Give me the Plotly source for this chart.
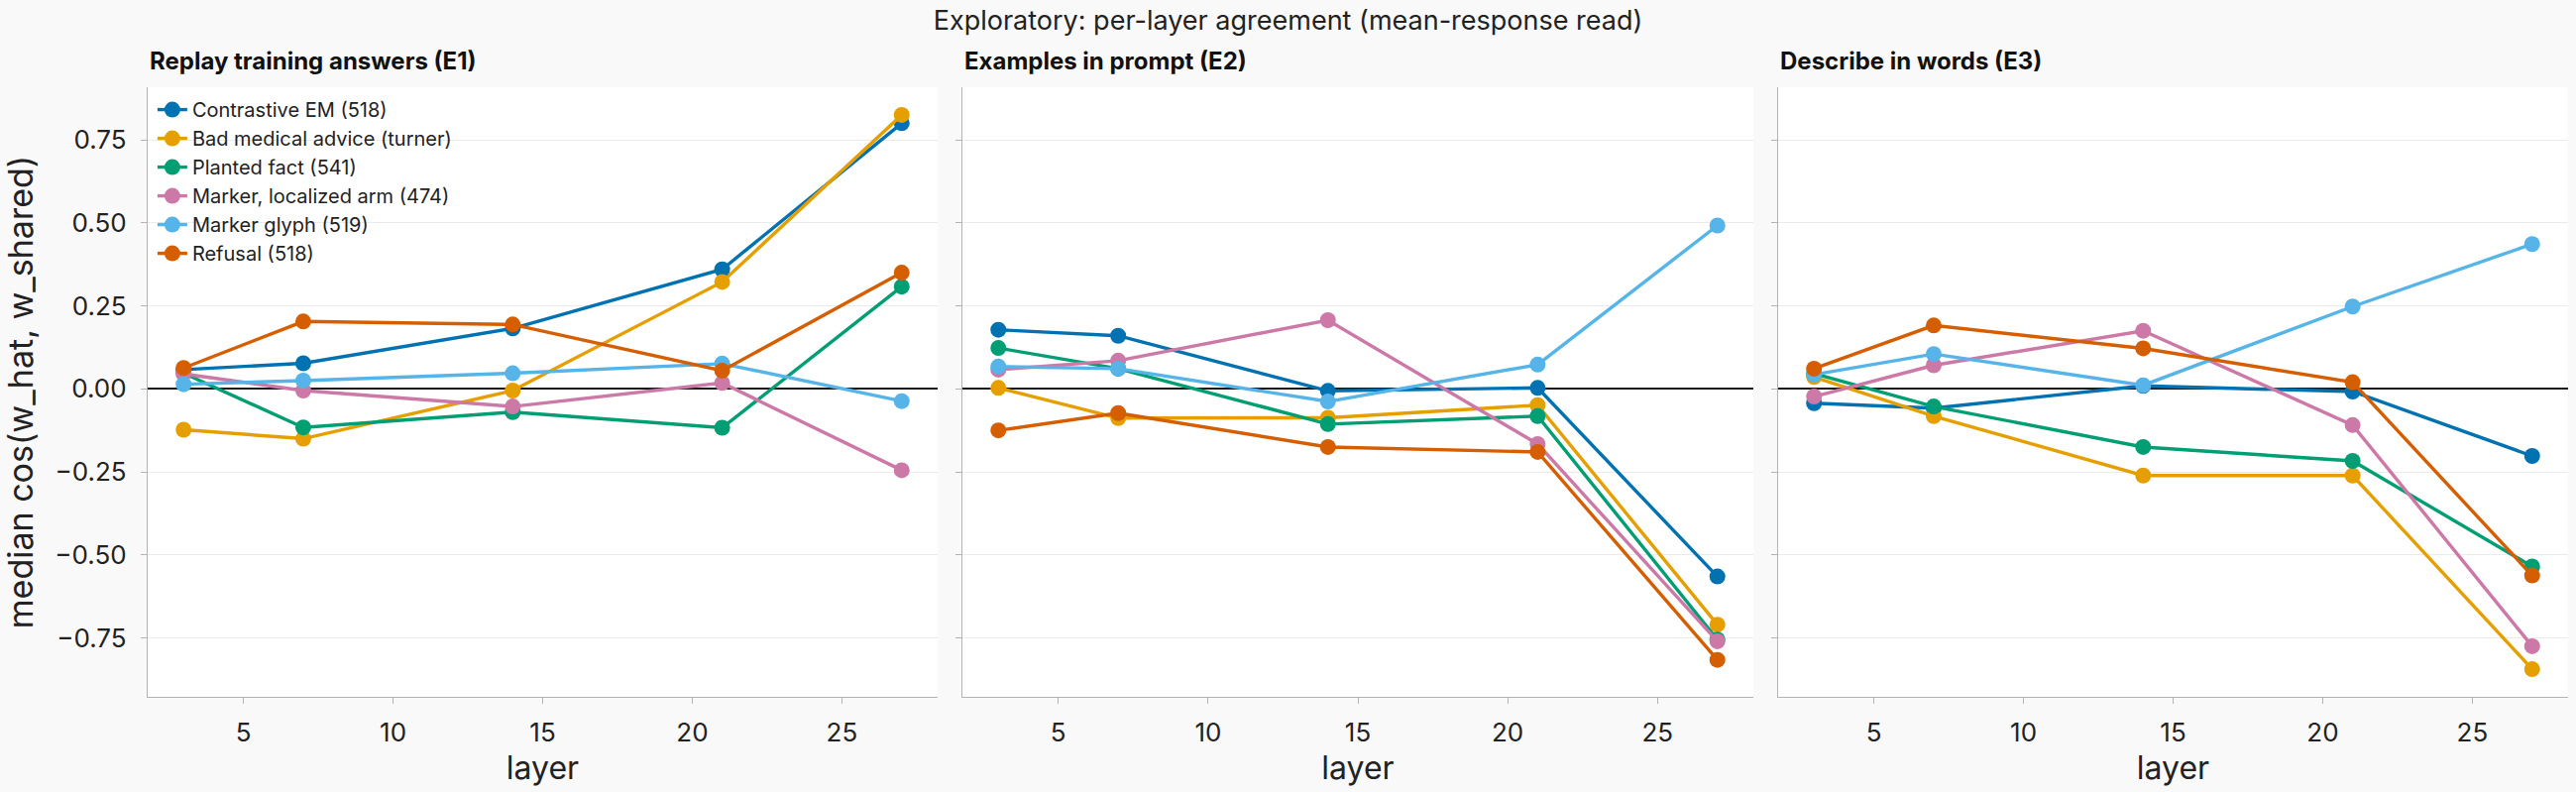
import plotly.graph_objects as go

layers = [3, 7, 14, 21, 27]

series_names = [
    "Contrastive EM (518)",
    "Bad medical advice (turner)",
    "Planted fact (541)",
    "Marker, localized arm (474)",
    "Marker glyph (519)",
    "Refusal (518)",
]
series_colors = ["#0072B2", "#E69F00", "#009E73", "#CC79A7", "#56B4E9", "#D55E00"]

panel_titles = ["Replay training answers (E1)", "Examples in prompt (E2)", "Describe in words (E3)"]

# E1: Replay training answers
e1_contrastive = [0.058, 0.077, 0.182, 0.360, 0.800]
e1_medical = [-0.123, -0.150, -0.005, 0.322, 0.825]
e1_planted = [0.047, -0.116, -0.070, -0.117, 0.308]
e1_marker_arm = [0.045, -0.005, -0.053, 0.018, -0.245]
e1_glyph = [0.014, 0.025, 0.047, 0.076, -0.037]
e1_refusal = [0.063, 0.203, 0.194, 0.055, 0.350]

# E2: Examples in prompt
e2_contrastive = [0.178, 0.160, -0.006, 0.003, -0.565]
e2_medical = [0.003, -0.088, -0.087, -0.049, -0.710]
e2_planted = [0.123, 0.061, -0.106, -0.082, -0.755]
e2_marker_arm = [0.058, 0.085, 0.207, -0.166, -0.760]
e2_glyph = [0.067, 0.061, -0.038, 0.073, 0.492]
e2_refusal = [-0.125, -0.073, -0.175, -0.190, -0.816]

# E3: Describe in words
e3_contrastive = [-0.043, -0.058, 0.009, -0.008, -0.202]
e3_medical = [0.036, -0.082, -0.261, -0.261, -0.844]
e3_planted = [0.046, -0.053, -0.175, -0.217, -0.535]
e3_marker_arm = [-0.023, 0.071, 0.175, -0.109, -0.775]
e3_glyph = [0.043, 0.105, 0.011, 0.248, 0.436]
e3_refusal = [0.061, 0.191, 0.122, 0.020, -0.562]

panels = [
    [e1_contrastive, e1_medical, e1_planted, e1_marker_arm, e1_glyph, e1_refusal],
    [e2_contrastive, e2_medical, e2_planted, e2_marker_arm, e2_glyph, e2_refusal],
    [e3_contrastive, e3_medical, e3_planted, e3_marker_arm, e3_glyph, e3_refusal],
]

y_tickvals = [-0.75, -0.5, -0.25, 0.0, 0.25, 0.5, 0.75]
y_ticktext = ["\u22120.75", "\u22120.50", "\u22120.25", "0.00", "0.25", "0.50", "0.75"]
x_tickvals = [5, 10, 15, 20, 25]

FONT = "Inter"
TEXT = "#222222"

W, H = 2599, 799
ML, MR, MT, MB = 149, 8, 88, 96
plot_w = W - ML - MR
panel_px = [(149, 946), (971, 1769), (1794, 2591)]
domains = [((a - ML) / plot_w, (b - ML) / plot_w) for a, b in panel_px]

fig = go.Figure()

all_vals = [v for p in panels for s in p for v in s]
ymin, ymax = min(all_vals), max(all_vals)
ypad = (ymax - ymin) * 0.05
xpad = (max(layers) - min(layers)) * 0.05

for pi, panel in enumerate(panels):
    xa = "x" if pi == 0 else f"x{pi+1}"
    ya = "y" if pi == 0 else f"y{pi+1}"
    for si, vals in enumerate(panel):
        fig.add_trace(go.Scatter(
            x=layers, y=vals, mode="lines+markers",
            name=series_names[si],
            line=dict(color=series_colors[si], width=3.4),
            marker=dict(color=series_colors[si], size=16),
            legendgroup=series_names[si],
            showlegend=(pi == 0),
            xaxis=xa, yaxis=ya,
        ))

axis_common = dict(
    showline=True, linecolor="#b3b3b3", linewidth=1.3,
    ticks="outside", ticklen=6, tickcolor="#b3b3b3", tickwidth=1.3,
    tickfont=dict(family=FONT, size=26, color=TEXT),
)

for pi in range(3):
    sfx = "" if pi == 0 else str(pi + 1)
    fig.layout["xaxis" + sfx] = dict(
        domain=list(domains[pi]), anchor="y" + sfx,
        range=[min(layers) - xpad, max(layers) + xpad],
        tickvals=x_tickvals, showgrid=False, zeroline=False,
        title=dict(text="layer", font=dict(family=FONT, size=32, color=TEXT), standoff=10),
        ticklabelstandoff=7,
        **axis_common,
    )
    fig.layout["yaxis" + sfx] = dict(
        domain=[0, 1], anchor="x" + sfx,
        range=[ymin - ypad, ymax + ypad],
        tickvals=y_tickvals, ticktext=y_ticktext,
        showticklabels=(pi == 0),
        showgrid=True, gridcolor="#ebebeb", gridwidth=1,
        zeroline=True, zerolinecolor="#1a1a1a", zerolinewidth=2,
        ticklabelstandoff=9,
        title=dict(text="median cos(w_hat, w_shared)" if pi == 0 else "",
                   font=dict(family=FONT, size=34, color=TEXT), standoff=14),
        **axis_common,
    )
    fig.add_annotation(
        text=f"<b>{panel_titles[pi]}</b>", xref="paper", yref="paper",
        x=domains[pi][0], y=1, xanchor="left", yanchor="bottom", yshift=10,
        showarrow=False, font=dict(family=FONT, size=24, color="#111111"),
    )

fig.update_layout(
    width=W, height=H,
    margin=dict(l=ML, r=MR, t=MT, b=MB),
    paper_bgcolor="#f9f9f9", plot_bgcolor="#ffffff",
    font=dict(family=FONT, color=TEXT),
    title=dict(text="Exploratory: per-layer agreement (mean-response read)",
               x=0.5, xref="container", xanchor="center",
               y=1 - 21 / H, yref="container", yanchor="middle",
               font=dict(family=FONT, size=27, color=TEXT)),
    legend=dict(x=0.002, y=0.995, xanchor="left", yanchor="top",
                bgcolor="rgba(255,255,255,0)", font=dict(family=FONT, size=20, color=TEXT),
                itemwidth=30, tracegroupgap=0),
    showlegend=True,
)

fig.write_html("out.html")
